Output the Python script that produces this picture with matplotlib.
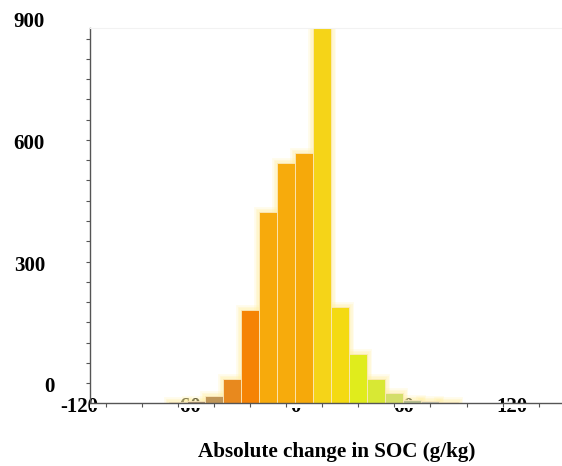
import matplotlib.pyplot as plt
import matplotlib.transforms as mtransforms
from matplotlib.patches import Rectangle

# histogram of absolute SOC change, 10 g/kg bins (left edges)
bin_left = [-70, -60, -50, -40, -30, -20, -10, 0, 10, 20, 30, 40, 50, 60, 70, 80]
counts = [2, 3, 16, 58, 228, 470, 591, 616, 924, 236, 120, 58, 25, 7, 4, 2]

x_labels = [-120, -60, 0, 60, 120]
y_labels = [0, 300, 600, 900]
x_title = 'Absolute change in SOC (g/kg)'

bar_colors = ['#a89880', '#a89070', '#c09658', '#e8891e', '#f58305', '#f7aa0c',
              '#f7ab0c', '#f6a90a', '#f5d418', '#f4da12', '#e0ec1c', '#d8e834',
              '#d4de6a', '#b8c090', '#c8c8b0', '#d8d8c8']
bin_width = 10
floor = -48

W, H = 562, 466
ax_l, ax_r, ax_b, ax_t = 90, 562, 402.7, 28

plt.rcParams['font.family'] = ['Liberation Serif', 'DejaVu Serif']
fig = plt.figure(figsize=(W / 100, H / 100), dpi=100)
ax = fig.add_axes([ax_l / W, (H - ax_b) / H, (ax_r - ax_l) / W, (ax_b - ax_t) / H])
ax.set_xlim(-114, 148)
ax.set_ylim(floor, 876)

# soft yellow glow round the bars, a few faint layers
for lw in [7, 5, 3]:
    ax.bar(bin_left, counts, width=bin_width, bottom=floor, align='edge',
           color='none', edgecolor='#fff0a0', linewidth=lw, alpha=0.22, zorder=1)
ax.bar(bin_left, counts, width=bin_width, bottom=floor, align='edge',
       color=bar_colors, edgecolor='#fbe8bc', linewidth=0.6, zorder=2)

for s in ['left', 'bottom']:
    ax.spines[s].set_color('#555555')
    ax.spines[s].set_linewidth(1.0)
ax.spines['top'].set_color('#f2f2f2')
ax.spines['top'].set_linewidth(0.8)
ax.spines['right'].set_visible(False)

ax.set_xticks(range(-105, 136, 20))
ax.set_yticks(range(0, 851, 50))
ax.set_xticklabels([])
ax.set_yticklabels([])
ax.tick_params(direction='out', length=3, width=0.8, color='#555555')

# x tick labels, partly hidden under the white band below the axis
ax_h = ax_b - ax_t
ax_w = ax_r - ax_l
xt = mtransforms.blended_transform_factory(ax.transData, ax.transAxes)
for v in x_labels:
    ax.text(v, -(407.5 - ax_b) / ax_h, str(v), transform=xt, ha='center', va='center',
            fontsize=15, fontweight='bold', clip_on=False, zorder=0.5)
ax.add_patch(Rectangle((0, -(408 - ax_b) / ax_h), 1, (408 - ax_b) / ax_h,
                       transform=ax.transAxes, facecolor='white', edgecolor='none',
                       clip_on=False, zorder=1))

yt = mtransforms.blended_transform_factory(ax.transAxes, ax.transData)
for v in y_labels:
    right_px = 55 if v == 0 else 45
    ax.text((right_px - ax_l) / ax_w, v - 10, str(v), transform=yt, ha='right', va='center',
            fontsize=15, fontweight='bold', clip_on=False)

fig.text(337 / W, 1 - 452 / H, x_title, ha='center', va='center',
         fontsize=15.25, fontweight='bold')

fig.savefig('out.png', dpi=100)
